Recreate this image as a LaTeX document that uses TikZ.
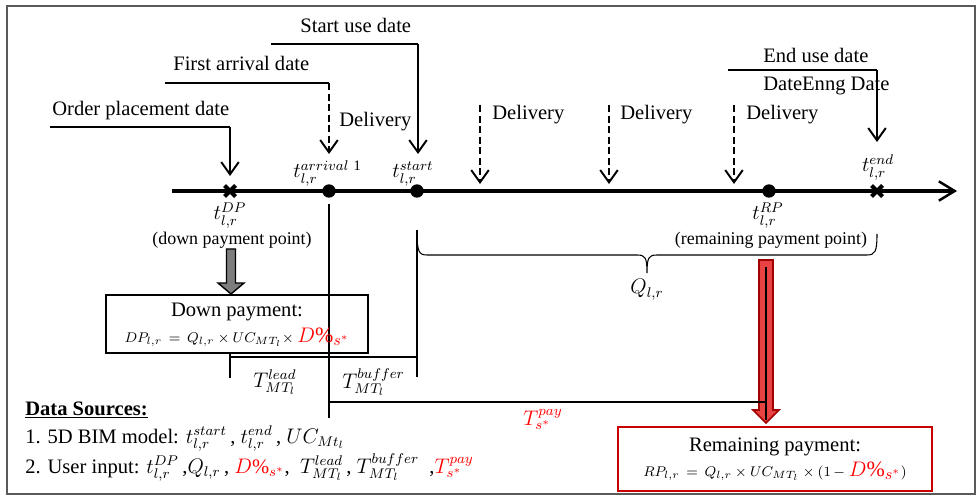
\documentclass[tikz,border=0pt]{standalone}
\usepackage{fontspec}
\setmainfont{Liberation Serif}
\usetikzlibrary{arrows.meta,calc}
\definecolor{framegray}{RGB}{90,90,90}
\definecolor{arrred}{RGB}{232,66,66}
\definecolor{arrdark}{RGB}{160,0,0}
\definecolor{boxred}{RGB}{200,0,0}
\definecolor{txtred}{RGB}{255,0,0}
\definecolor{graybody}{RGB}{125,125,125}
\begin{document}
\begin{tikzpicture}[x=0.02cm,y=-0.02cm,
  lbl/.style={inner sep=0pt, font=\fontsize{11.7}{14}\selectfont},
  small/.style={inner sep=0pt, font=\fontsize{10.2}{12}\selectfont},
  frm/.style={inner sep=0pt, font=\fontsize{8.5}{10}\selectfont},
  hline/.style={line width=0.7pt},
  varrow/.style={line width=1.1pt, -{Straight Barb[length=7pt,width=10pt,line width=1.1pt]}},
  darrow/.style={varrow, dash pattern=on 4pt off 2pt},
  thinline/.style={line width=0.6pt},
  dot/.style={circle, fill=black, inner sep=0pt, minimum size=7.6pt},
  xmark/.style={line width=2.3pt},
]
\useasboundingbox (0,0) rectangle (979,496);
\draw[framegray, line width=1pt] (7,6) rectangle (975,494);

% timeline points
\coordinate (tlS) at (172,191);
\coordinate (tlE) at (957,191);
\coordinate (pDP) at (230,191);
\coordinate (pA) at (329,191);
\coordinate (pS) at (417,191);
\coordinate (pRP) at (769,191);
\coordinate (pE) at (877,191);

\draw[line width=1.8pt, -{Straight Barb[length=9pt,width=11pt,line width=1.4pt]}] (tlS) -- (tlE);
\draw[xmark] ($(pDP)+(-5.5,-5.5)$) -- ($(pDP)+(5.5,5.5)$) ($(pDP)+(-5.5,5.5)$) -- ($(pDP)+(5.5,-5.5)$);
\draw[xmark] ($(pE)+(-5.5,-5.5)$) -- ($(pE)+(5.5,5.5)$) ($(pE)+(-5.5,5.5)$) -- ($(pE)+(5.5,-5.5)$);
\node[dot] (dA) at (pA) {};
\node[dot] (dS) at (pS) {};
\node[dot] (dRP) at (pRP) {};

% Order placement
\coordinate (op0) at (50,127);
\coordinate (op1) at (230,127);
\coordinate (op2) at (230,176);
\draw[hline] (op0) -- (op1);
\draw[varrow] (op1) -- (op2);
\node[lbl, anchor=base west] (optxt) at (52,116) {Order placement date};

% First arrival
\coordinate (fa0) at (165,83);
\coordinate (fa1) at (329,83);
\coordinate (fa2) at (329,154);
\draw[hline] (fa0) -- (fa1);
\draw[darrow] (fa1) -- (fa2);
\node[lbl, anchor=base west] (fatxt) at (173,71) {First arrival date};

% Start use
\coordinate (su0) at (271,44);
\coordinate (su1) at (418,44);
\coordinate (su2) at (418,154);
\draw[hline] (su0) -- (su1);
\draw[varrow] (su1) -- (su2);
\node[lbl, anchor=base west] (sutxt) at (300,33) {Start use date};

% End use
\coordinate (eu0) at (728,70);
\coordinate (eu1) at (877,70);
\coordinate (eu2) at (877,142);
\draw[hline] (eu0) -- (eu1);
\draw[varrow] (eu1) -- (eu2);
\node[lbl, anchor=base west] (eutxt) at (763,63) {End use date};
\node[lbl, anchor=base west] (eutxt2) at (763,91) {DateEnng Date};

% Deliveries
\coordinate (d2a) at (480,105); \coordinate (d2b) at (480,184);
\coordinate (d3a) at (609,105); \coordinate (d3b) at (609,184);
\coordinate (d4a) at (734,105); \coordinate (d4b) at (734,184);
\draw[darrow] (d2a) -- (d2b);
\draw[darrow] (d3a) -- (d3b);
\draw[darrow] (d4a) -- (d4b);
\node[lbl, anchor=base west] (del1) at (339,127) {Delivery};
\node[lbl, anchor=base west] (del2) at (492,120) {Delivery};
\node[lbl, anchor=base west] (del3) at (620,120) {Delivery};
\node[lbl, anchor=base west] (del4) at (746,120) {Delivery};

% t labels
\node[lbl, anchor=base west] (tA) at (293,178) {$t_{l,r}^{arrival~\mathrm{1}}$};
\node[lbl, anchor=base west] (tS) at (392,178) {$t_{l,r}^{start}$};
\node[lbl, anchor=base] (tDP) at (230,220) {$t_{l,r}^{DP}$};
\node[lbl, anchor=base] (tRP) at (768,220) {$t_{l,r}^{RP}$};
\node[lbl, anchor=base] (tE) at (878,172) {$t_{l,r}^{end}$};
\node[small, anchor=base] (dpp) at (232,245) {(down payment point)};
\node[small, anchor=base] (rpp) at (771,245) {(remaining payment point)};

% brace
\draw[thinline] (417,231) .. controls (417,252) and (419,255) .. (427,255) -- (637,255)
  .. controls (645,255) and (647,257) .. (647,273)
  .. controls (647,257) and (649,255) .. (657,255) -- (867,255)
  .. controls (875,255) and (877,252) .. (877,234);
\node[lbl, anchor=base] (Q) at (647,294) {$Q_{l,r}$};

% measurement lines
\coordinate (vA0) at (329,204); \coordinate (vA1) at (329,418);
\coordinate (vS0) at (417,230); \coordinate (vS1) at (417,377);
\coordinate (hL0) at (230,357); \coordinate (hL1) at (417,357);
\coordinate (vL0) at (230,353); \coordinate (vL1) at (230,378);
\coordinate (hP0) at (329,402); \coordinate (hP1) at (766,402);
\draw[thinline] (vA0) -- (vA1);
\draw[thinline] (vS0) -- (vS1);
\draw[thinline] (hL0) -- (hL1);
\draw[thinline] (vL0) -- (vL1);

\node[lbl, anchor=base west] (Tlead) at (253,387) {$T_{MT_l}^{lead}$};
\node[lbl, anchor=base west] (Tbuf) at (342,388) {$T_{MT_l}^{buffer}$};
\node[lbl, anchor=base west, text=txtred] (Tpay) at (523,425) {$T_{s^*}^{pay}$};

% gray block arrow
\draw[fill=graybody, line width=0.8pt] (226.5,249) -- (235.5,249) -- (235.5,283) -- (244,283) -- (231,294) -- (218,283) -- (226.5,283) -- cycle;

% down payment box
\node[draw, line width=1.1pt, minimum width=262*0.02cm, minimum height=58*0.02cm, inner sep=0pt] (dpbox) at (237,324) {};
\node[lbl, anchor=base] (dptitle) at (237,316) {Down payment:};
\node[frm, anchor=base] (dpform) at (237,342) {$DP_{l,r}\,=\,Q_{l,r}\times UC_{MT_l}\times$ {\fontsize{12.5}{14}\selectfont\color{txtred}$D\%_{s^*}$}};

% red block arrow
\draw[fill=arrred, draw=arrdark, line width=0.9pt] (759,260) -- (773,260) -- (773,410) -- (779,410) -- (766,423) -- (753,410) -- (759,410) -- cycle;
\coordinate (rv0) at (766,267); \coordinate (rv1) at (766,420);
\draw[thinline] (rv0) -- (rv1);
\draw[thinline] (hP0) -- (hP1);

% remaining payment box
\node[draw=boxred, line width=1pt, minimum width=314*0.02cm, minimum height=64*0.02cm, inner sep=0pt] (rpbox) at (775,459) {};
\node[lbl, anchor=base] (rptitle) at (775,451) {Remaining payment:};
\node[frm, anchor=base] (rpform) at (775,476) {$RP_{l,r}\,=\,Q_{l,r}\times UC_{MT_l}\times(1\,-$ {\fontsize{12.5}{14}\selectfont\color{txtred}$D\%_{s^*}$}$)$};

% data sources
\node[lbl, anchor=base west] (ds) at (25,415) {\underline{\textbf{Data Sources:}}};
\node[lbl, anchor=base west] (ds1) at (25,443) {1. 5D BIM model: $t_{l,r}^{start}$\,, $t_{l,r}^{end}$\,, $UC_{Mt_l}$};
\node[lbl, anchor=base west] (ds2) at (25,473) {2. User input: $t_{l,r}^{DP}$\,,$Q_{l,r}$\,, {\color{txtred}$D\%_{s^*}$},\ \ $T_{MT_l}^{lead}$\,, $T_{MT_l}^{buffer}$\ \ ,{\color{txtred}$T_{s^*}^{pay}$}};
\end{tikzpicture}
\end{document}
